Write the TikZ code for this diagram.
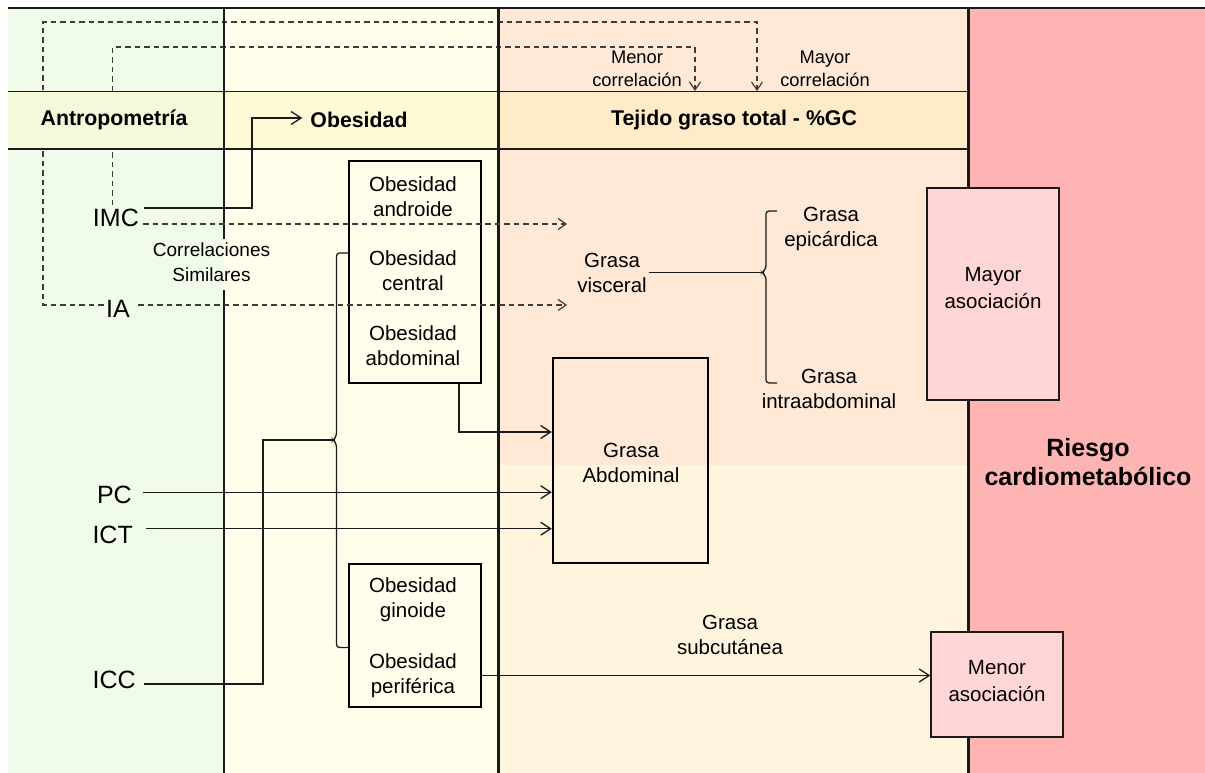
\documentclass[tikz,border=0pt]{standalone}
\usepackage{fontspec}
\setmainfont{Liberation Sans}
\usetikzlibrary{arrows.meta,calc}
\pgfdeclarelayer{bg}
\pgfdeclarelayer{mid}
\pgfsetlayers{bg,mid,main}
\definecolor{cGreen}{HTML}{F1FBEA}
\definecolor{cGreenH}{HTML}{F4F9D9}
\definecolor{cCream}{HTML}{FFFEEA}
\definecolor{cCreamH}{HTML}{FFFAD6}
\definecolor{cPeach}{HTML}{FFE9D6}
\definecolor{cPeachL}{HTML}{FFF5DE}
\definecolor{cPeachH}{HTML}{FFEBC8}
\definecolor{cRed}{HTML}{FFB4B4}
\definecolor{cPinkBox}{HTML}{FFD5D6}
\definecolor{cLine}{HTML}{1A1A1A}
\begin{document}
\begin{tikzpicture}[x=1pt,y=-1pt,
  txt/.style={font=\fontsize{20.5}{25}\selectfont, align=center, inner sep=0pt, text=black},
  lbl/.style={font=\fontsize{25}{29}\selectfont, inner sep=0pt, text=black},
  hdr/.style={font=\bfseries\fontsize{21.3}{25}\selectfont, inner sep=0pt, text=black},
  smalltxt/.style={font=\fontsize{18.3}{23}\selectfont, align=center, inner sep=0pt, text=black},
  corrtxt/.style={font=\fontsize{19}{25}\selectfont, align=center, inner sep=0pt, text=black},
  asoc/.style={draw=cLine, line width=1.3pt, fill=cPinkBox, inner sep=0pt},
  asoctxt/.style={font=\fontsize{20.5}{26.5}\selectfont, align=center, inner sep=0pt, text=black},
  obox/.style={draw=black, line width=2.4pt, inner sep=0pt},
  conn/.style={draw=cLine, line width=1.3pt},
  arr/.style={conn, -{Straight Barb[length=10pt,width=13pt]}},
  dsh/.style={draw=cLine!85, line width=1.2pt, dash pattern=on 5.5pt off 4pt},
  darr/.style={dsh, -{Straight Barb[length=8pt,width=11pt]}},
  colline/.style={draw=cLine, line width=2.5pt},
  hline/.style={draw=cLine, line width=1.3pt}
]
\useasboundingbox (0,0) rectangle (1205,773);

% ---------- backgrounds
\begin{pgfonlayer}{bg}
  \fill[cGreen] (8,8) rectangle (224,773);
  \fill[cCream] (224,8) rectangle (498.5,773);
  \fill[cPeach] (498.5,8) rectangle (968.5,465);
  \fill[cPeachL] (498.5,465) rectangle (968.5,773);
  \fill[cRed] (968.5,8) rectangle (1205,773);
\end{pgfonlayer}
\begin{pgfonlayer}{mid}
  \fill[cGreenH] (8,91.5) rectangle (224,149);
  \fill[cCreamH] (224,91.5) rectangle (498.5,149);
  \fill[cPeachH] (498.5,91.5) rectangle (968.5,149);
  \draw[hline] (8,91.5) -- (968.5,91.5);
  \draw[hline] (8,149) -- (968.5,149);
  \draw[colline] (224,8) -- (224,239);
  \draw[colline] (224,290) -- (224,773);
  \draw[colline] (498.5,8) -- (498.5,773);
  \draw[colline] (968.5,8) -- (968.5,773);
  \draw[cLine, line width=2pt] (8,8) -- (1205,8);
\end{pgfonlayer}

% ---------- headers
\node[hdr] (hAnt) at (114,120) {Antropometría};
\node[hdr] (hOb) at (359,120) {Obesidad};
\node[hdr] (hTej) at (734,120) {Tejido graso total - \%GC};
\node[font=\bfseries\fontsize{25}{29}\selectfont, align=center, inner sep=0pt] (riesgo) at (1088,462) {Riesgo\\cardiometabólico};

% ---------- anthropometric labels
\node[lbl, anchor=east] (imc) at (139,217.5) {IMC};
\node[lbl, anchor=east] (ia) at (130,309) {IA};
\node[lbl, anchor=east] (pc) at (132,494.7) {PC};
\node[lbl, anchor=east] (ict) at (133,535) {ICT};
\node[lbl, anchor=east] (icc) at (136,680) {ICC};
\node[corrtxt] (corr) at (211.5,262) {Correlaciones\\Similares};

% ---------- obesity boxes
\node[obox, minimum width=132, minimum height=222] (ob1) at (415,272) {};
\node[txt] (andr) at (413,197) {Obesidad\\androide};
\node[txt] (cent) at (413,271) {Obesidad\\central};
\node[txt] (abdo) at (413,346) {Obesidad\\abdominal};
\node[obox, minimum width=132, minimum height=143] (ob2) at (415,635.5) {};
\node[txt] (gino) at (413,600) {Obesidad\\ginoide};
\node[txt] (perif) at (413,675.5) {Obesidad\\periférica};

% ---------- fat tissue
\node[obox, minimum width=155, minimum height=205] (gab) at (630.5,460.5) {};
\node[txt] (gabT) at (631,463) {Grasa\\Abdominal};
\node[txt] (visc) at (612,272.5) {Grasa\\visceral};
\node[txt] (epi) at (831,229) {Grasa\\epicárdica};
\node[txt] (intra) at (829,389) {Grasa\\intraabdominal};
\node[txt] (subc) at (730,635) {Grasa\\subcutánea};
\node[smalltxt] (menc) at (637,68.5) {Menor\\correlación};
\node[smalltxt] (mayc) at (825,68.5) {Mayor\\correlación};

% ---------- risk boxes
\node[asoc, minimum width=132, minimum height=212] (mya) at (993,294) {};
\node[asoctxt] (myaT) at (993,288) {Mayor\\asociación};
\node[asoc, minimum width=132, minimum height=105] (mna) at (997,684.5) {};
\node[asoctxt] (mnaT) at (997,681) {Menor\\asociación};

% ---------- helper coordinates
\coordinate (tMenor) at (695,91);
\coordinate (kMenor) at (695,47);
\coordinate (tMayor) at (757,91);
\coordinate (kMayor) at (43,22);
\coordinate (jImc) at (252,118);
\coordinate (jIcc) at (263,440);
\coordinate (tipO) at (333,440);
\coordinate (tipV) at (762,272.5);
\coordinate (imcS) at ([xshift=5pt,yshift=9.5pt]imc.east);
\coordinate (imcD) at ([xshift=4pt,yshift=-6.5pt]imc.east);
\coordinate (imcU) at ([xshift=-3pt,yshift=3pt]imc.north);
\coordinate (iaL) at ([xshift=-2pt,yshift=4pt]ia.west);
\coordinate (iaR) at ([xshift=8pt,yshift=4pt]ia.east);
\coordinate (pcS) at ([xshift=11pt,yshift=2.5pt]pc.east);
\coordinate (ictS) at ([xshift=13pt,yshift=6.3pt]ict.east);
\coordinate (iccS) at ([xshift=8pt,yshift=-4pt]icc.east);
\coordinate (viscIn) at ([xshift=-10pt]visc.west);

% ---------- dashed correlation loops (behind header band)
\begin{pgfonlayer}{bg}
  \draw[darr] (imcU) |- (kMenor) -- (tMenor);
  \draw[darr] (iaL) -| (kMayor) -| (tMayor);
\end{pgfonlayer}

% ---------- dashed arrows to visceral fat
\draw[darr] (imcD) -- (imcD -| viscIn);
\draw[darr] (iaR) -- (iaR -| viscIn);

% ---------- solid connectors
\draw[arr] (imcS) -| (jImc) -- ([xshift=-8pt,yshift=2pt]hOb.west);
\draw[arr] ([xshift=44pt]ob1.south) |- ([yshift=28.5pt]gab.west);
\draw[arr] (pcS) -- (pcS -| gab.west);
\draw[arr] (ictS) -- (ictS -| gab.west);
\draw[conn] (iccS) -| (jIcc) -- (tipO);
\draw[conn, rounded corners=3pt] ([yshift=19pt]ob1.west) -| (336.5,436) -- (tipO) -- (336.5,444) |- ([yshift=-12pt]ob2.west);
\draw[arr] (ob2.east |- perif) -- (mna.west |- perif);
\draw[conn] ([xshift=2pt]visc.east) -- (tipV);
\draw[conn, rounded corners=3pt] (777,211) -| (766,268.5) -- (tipV) -- (766,276.5) |- (777,383);
\end{tikzpicture}
\end{document}
